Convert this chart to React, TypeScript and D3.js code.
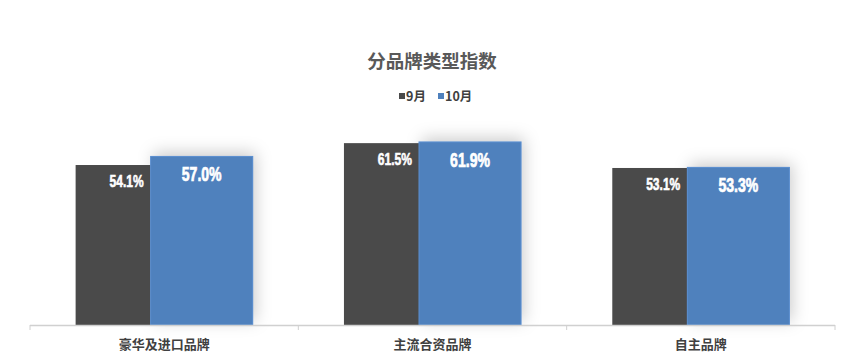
import React from "react";
import * as d3 from "d3";

const categories = ["豪华及进口品牌", "主流合资品牌", "自主品牌"];
const seriesNames = ["9月", "10月"];
const sep = [54.1, 61.5, 53.1];
const oct = [57.0, 61.9, 53.3];
const colors = ["#4a4a4a", "#4f81bd"];

const W = 865, H = 360;

export default function App() {
  const x = d3.scaleBand<string>().domain(categories).range([30, 835]).paddingInner(0).paddingOuter(0);
  const y = d3.scaleLinear().domain([0, 70]).range([325, 118]);
  const groupW = x.bandwidth() * 0.66;
  const darkW = groupW * (75 / 177);
  const blueW = groupW - darkW;
  const ticks = [...categories.map((c) => x(c)!), 835];
  const numFont = "'Liberation Sans', Arial, sans-serif";
  const cjk = "'Noto Sans CJK SC', sans-serif";
  return (
    <svg width={W} height={H} style={{ position: "absolute", left: 0, top: 0 }}>
      <defs>
        <filter id="glow" x="-30%" y="-60%" width="160%" height="200%">
          <feDropShadow dx="3" dy="-4" stdDeviation="8" floodColor="#000" floodOpacity="0.2" />
        </filter>
      </defs>
      <rect width={W} height={H} fill="#fff" />
      <text x={432} y={68} textAnchor="middle" fontFamily={cjk} fontWeight="bold" fontSize={18.5} fill="#595959">分品牌类型指数</text>
      {seriesNames.map((s, i) => {
        const lx = i === 0 ? 399 : 438;
        return (
          <g key={s}>
            <rect x={lx} y={93} width={6} height={6} fill={colors[i]} />
            <text x={lx + 7} y={101} fontFamily={cjk} fontWeight="bold" fontSize={12.5} fill="#404040">{s}</text>
          </g>
        );
      })}
      {categories.map((c, i) => {
        const cx = x(c)! + x.bandwidth() / 2;
        const x0 = cx - groupW / 2;
        const x1 = x0 + darkW;
        return (
          <g key={c}>
            <rect x={x1} y={y(oct[i])} width={blueW} height={y(0) - y(oct[i])} fill={colors[1]} filter="url(#glow)" />
            <rect x={x0} y={y(sep[i])} width={darkW} height={y(0) - y(sep[i])} fill={colors[0]} />
            <rect x={x1} y={y(oct[i])} width={blueW} height={y(0) - y(oct[i])} fill={colors[1]} stroke="#5b8fd0" strokeWidth={1} />
            <text transform={`translate(${x1 - 7},${y(sep[i]) + 22}) scale(0.73,1)`} textAnchor="end" fontFamily={numFont} fontWeight="bold" fontSize={16.5} fill="#fff" stroke="#fff" strokeWidth={0.6}>{sep[i].toFixed(1)}%</text>
            <text transform={`translate(${x1 + blueW / 2},${y(oct[i]) + 25}) scale(0.72,1)`} textAnchor="middle" fontFamily={numFont} fontWeight="bold" fontSize={19.5} fill="#fff" stroke="#fff" strokeWidth={0.7}>{oct[i].toFixed(1)}%</text>
            <text x={cx} y={349} textAnchor="middle" fontFamily={cjk} fontWeight="bold" fontSize={13} fill="#404040">{c}</text>
          </g>
        );
      })}
      <line x1={30} x2={835} y1={325.5} y2={325.5} stroke="#d0d0d0" strokeWidth={1.5} />
      {ticks.map((t, i) => (
        <line key={i} x1={t} x2={t} y1={325} y2={330} stroke="#d0d0d0" strokeWidth={1} />
      ))}
    </svg>
  );
}
